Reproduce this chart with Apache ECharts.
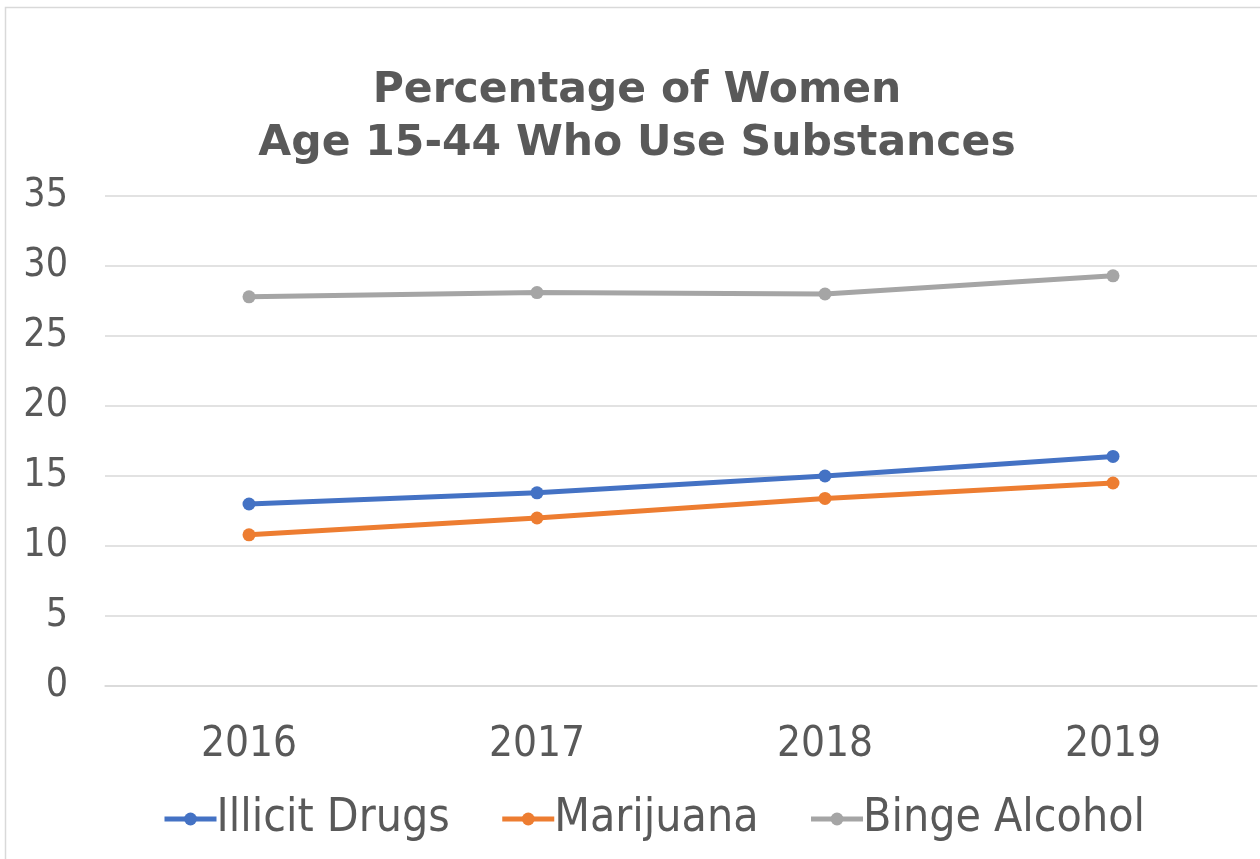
<!DOCTYPE html>
<html>
<head>
<meta charset="utf-8">
<script src="https://cdn.jsdelivr.net/npm/echarts@6/dist/echarts.min.js"></script>
<style>
html,body{margin:0;padding:0;background:#fff;}
#chart{width:1260px;height:859px;}
</style>
</head>
<body>
<div id="chart"></div>
<script>
const titleText = 'Percentage of Women\nAge 15-44 Who Use Substances';
const years = ['2016', '2017', '2018', '2019'];
const illicitDrugs = [13.0, 13.8, 15.0, 16.4];
const marijuana = [10.8, 12.0, 13.4, 14.5];
const bingeAlcohol = [27.8, 28.1, 28.0, 29.3];
const seriesNames = ['Illicit Drugs', 'Marijuana', 'Binge Alcohol'];
const colors = ['#4472C4', '#ED7D31', '#A5A5A5'];

const FONT = '"DejaVu Sans Condensed", "DejaVu Sans", sans-serif';
const TITLE_FONT = '"DejaVu Sans", sans-serif';
const chart = echarts.init(document.getElementById('chart'), null, {renderer: 'canvas'});

function lineSeries(name, data, color) {
  return {
    name: name,
    type: 'line',
    data: data,
    symbol: 'circle',
    symbolSize: 13,
    lineStyle: {color: color, width: 5},
    itemStyle: {color: color},
    emphasis: {disabled: true},
    animation: false
  };
}

chart.setOption({
  animation: false,
  color: colors,
  graphic: [{
    type: 'rect',
    shape: {x: 5.5, y: 7.5, width: 1400, height: 1000},
    style: {fill: 'none', stroke: '#d9d9d9', lineWidth: 1.5},
    silent: true, z: -10
  }],
  title: {
    text: titleText,
    left: 632,
    textAlign: 'center',
    top: 59,
    textStyle: {
      fontFamily: TITLE_FONT,
      fontWeight: 'bold',
      fontSize: 42.5,
      lineHeight: 53,
      color: '#595959'
    }
  },
  legend: {
    data: seriesNames,
    left: 162,
    top: 796,
    padding: 0,
    itemWidth: 52,
    itemHeight: 16,
    itemGap: 50,
    lineStyle: {width: 5},
    textStyle: {
      fontFamily: FONT,
      fontSize: 46,
      color: '#595959',
      padding: [0, 0, 0, -5]
    }
  },
  grid: {
    left: 105,
    right: 3,
    top: 196,
    bottom: 173,
    containLabel: false
  },
  xAxis: {
    type: 'category',
    data: years,
    boundaryGap: true,
    axisLine: {show: true, lineStyle: {color: '#d9d9d9', width: 1.5}},
    axisTick: {show: false},
    axisLabel: {
      fontFamily: FONT,
      fontSize: 42,
      color: '#595959',
      margin: 38
    }
  },
  yAxis: {
    type: 'value',
    min: 0,
    max: 35,
    interval: 5,
    axisLine: {show: false},
    axisTick: {show: false},
    splitLine: {lineStyle: {color: '#d9d9d9', width: 1.5}},
    axisLabel: {
      fontFamily: FONT,
      fontSize: 39,
      color: '#595959',
      margin: 37
    }
  },
  series: [
    lineSeries(seriesNames[0], illicitDrugs, colors[0]),
    lineSeries(seriesNames[1], marijuana, colors[1]),
    lineSeries(seriesNames[2], bingeAlcohol, colors[2])
  ]
});
</script>
</body>
</html>
